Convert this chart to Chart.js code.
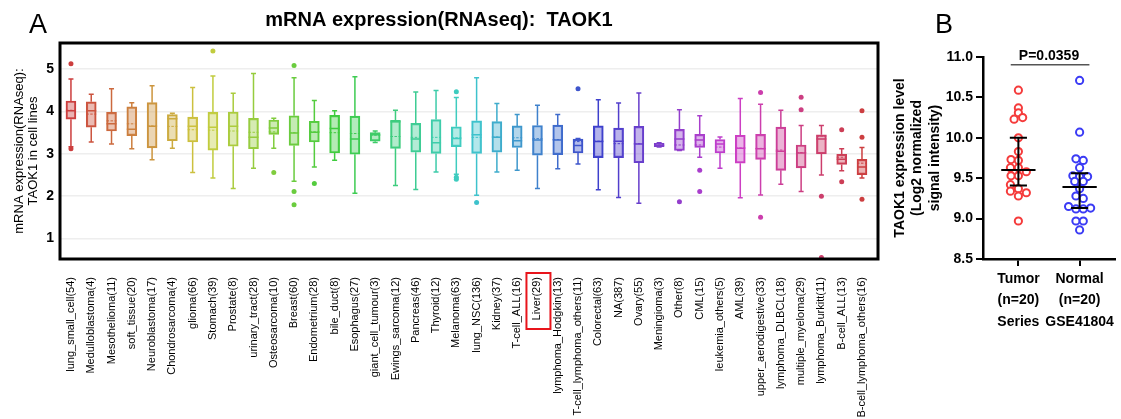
<!DOCTYPE html>
<html>
<head>
<meta charset="utf-8">
<script src="https://cdn.jsdelivr.net/npm/chart.js@4"></script>
<style>
  body { margin: 0; background: #fff; width: 1121px; height: 419px; position: relative; overflow: hidden; }
  #chartA { position: absolute; left: 0; top: 0; }
  #chartB { position: absolute; left: 885px; top: 0; }
</style>
</head>
<body>
<canvas id="chartA" width="885" height="419"></canvas>
<canvas id="chartB" width="236" height="419"></canvas>
<script>
// ---- panel A: cell line box plots ----
const cellLines = ['lung_small_cell(54)', 'Medulloblastoma(4)', 'Mesothelioma(11)', 'soft_tissue(20)', 'Neuroblastoma(17)',
  'Chondrosarcoma(4)', 'glioma(66)', 'Stomach(39)', 'Prostate(8)', 'urinary_tract(28)', 'Osteosarcoma(10)', 'Breast(60)',
  'Endometrium(28)', 'bile_duct(8)', 'Esophagus(27)', 'giant_cell_tumour(3)', 'Ewings_sarcoma(12)', 'Pancreas(46)',
  'Thyroid(12)', 'Melanoma(63)', 'lung_NSC(136)', 'Kidney(37)', 'T-cell_ALL(16)', 'Liver(29)', 'lymphoma_Hodgkin(13)',
  'T-cell_lymphoma_others(11)', 'Colorectal(63)', 'NA(387)', 'Ovary(55)', 'Meningioma(3)', 'Other(8)', 'CML(15)',
  'leukemia_others(5)', 'AML(39)', 'upper_aerodigestive(33)', 'lymphoma_DLBCL(18)', 'multiple_myeloma(29)',
  'lymphoma_Burkitt(11)', 'B-cell_ALL(13)', 'B-cell_lymphoma_others(16)'];

const whiskerLow  = [3.17, 3.28, 3.23, 3.12, 2.86, 3.13, 2.56, 2.43, 2.18, 2.66, 3.13, 2.35, 2.69, 2.85, 2.07, 3.27, 2.25, 2.16, 2.57, 2.52,
                     2.02, 2.57, 2.61, 2.18, 2.65, 2.76, 2.15, 1.97, 1.83, 3.16, 3.08, 2.92, 2.66, 1.96, 2.03, 2.28, 2.11, 2.50, 2.60, 2.43];
const q1Vals      = [3.82, 3.63, 3.54, 3.43, 3.14, 3.31, 3.28, 3.09, 3.18, 3.12, 3.46, 3.20, 3.28, 3.02, 2.99, 3.30, 3.13, 3.04, 3.01, 3.17,
                     3.01, 3.04, 3.15, 2.97, 2.98, 3.02, 2.91, 2.91, 2.79, 3.17, 3.08, 3.15, 3.02, 2.78, 2.87, 2.61, 2.67, 3.00, 2.75, 2.51];
const medianVals  = [4.02, 4.02, 3.71, 3.58, 3.65, 3.83, 3.65, 3.63, 3.65, 3.39, 3.61, 3.49, 3.51, 3.60, 3.35, 3.45, 3.76, 3.35, 3.26, 3.36,
                     3.45, 3.39, 3.31, 3.33, 3.33, 3.20, 3.29, 3.30, 3.23, 3.20, 3.35, 3.33, 3.23, 3.13, 3.12, 3.06, 3.02, 3.35, 2.87, 2.69];
const q3Vals      = [4.25, 4.23, 3.98, 4.11, 4.21, 3.93, 3.87, 3.98, 3.99, 3.84, 3.80, 3.90, 3.77, 3.91, 3.89, 3.50, 3.79, 3.72, 3.81, 3.64,
                     3.78, 3.76, 3.66, 3.67, 3.68, 3.35, 3.66, 3.61, 3.65, 3.25, 3.58, 3.46, 3.34, 3.44, 3.46, 3.63, 3.21, 3.45, 2.99, 2.87];
const whiskerHigh = [4.77, 4.41, 4.54, 4.21, 4.61, 3.96, 4.57, 4.84, 4.43, 4.90, 3.84, 4.80, 4.26, 4.02, 4.82, 3.54, 4.03, 4.46, 4.50, 4.33,
                     4.80, 4.19, 3.93, 4.15, 3.93, 3.36, 4.28, 4.20, 4.44, 3.26, 4.04, 3.90, 3.40, 4.31, 4.17, 4.03, 3.67, 3.67, 3.12, 3.15];
const meanVals    = [4.03, 3.94, 3.78, 3.71, 3.66, 3.65, 3.57, 3.56, 3.54, 3.51, 3.52, 3.50, 3.52, 3.50, 3.48, 3.44, 3.41, 3.39, 3.39, 3.38,
                     3.39, 3.40, 3.38, 3.36, 3.34, 3.29, 3.30, 3.24, 3.24, 3.21, 3.21, 3.21, 3.16, 3.14, 3.13, 3.09, 3.03, 3.42, 2.92, 2.78];
// [cell line index, value]
const outliers = [[0, 5.13], [0, 3.12], [7, 5.43], [10, 2.56], [11, 5.09], [11, 2.11], [11, 1.80], [12, 2.30],
  [19, 4.47], [19, 2.45], [19, 2.40], [20, 1.85], [25, 4.54], [30, 1.87], [31, 2.61], [31, 2.11],
  [34, 4.45], [34, 1.50], [36, 4.34], [36, 4.04], [37, 2.00], [37, 0.55], [38, 3.57], [38, 2.34],
  [39, 4.02], [39, 3.39], [39, 1.93]];
const yTicksA = [1, 2, 3, 4, 5];
const highlighted = 'Liver(29)';

// ---- panel B: GSE41804 ----
const groupLabels = [['Tumor', '(n=20)', 'Series'], ['Normal', '(n=20)', 'GSE41804']];
const tumorVals   = [10.59, 10.37, 10.31, 10.23, 10.25, 10.00, 9.83, 9.73, 9.72, 9.63, 9.63, 9.58, 9.53, 9.53, 9.42, 9.34, 9.37, 9.32, 9.28, 8.97];
const tumorShift  = [0, 0, 0, -0.07, 0.07, 0, 0, -0.12, 0, -0.13, 0, 0.13, -0.12, 0, -0.13, -0.13, 0, 0.13, 0, 0];
const normalVals  = [10.71, 10.07, 9.74, 9.72, 9.63, 9.53, 9.52, 9.52, 9.46, 9.46, 9.37, 9.28, 9.25, 9.15, 9.12, 9.12, 9.13, 8.97, 8.97, 8.86];
const normalShift = [0, 0, -0.06, 0.06, 0, -0.11, 0, 0.13, -0.08, 0.06, 0, -0.06, 0.06, -0.18, -0.06, 0.06, 0.18, -0.06, 0.06, 0];
const centerVals  = [9.60, 9.39];
const upperVals   = [10.00, 9.56];
const lowerVals   = [9.41, 9.13];
const pText = 'P=0.0359';

Chart.defaults.font.family = 'Arial, "Liberation Sans", sans-serif';
Chart.defaults.color = '#000';

const hue = i => (i * 9.2) % 360;
const lineCol = i => `hsl(${hue(i)}, 58%, 52%)`;
const fillCol = i => `hsla(${hue(i)}, 58%, 58%, 0.45)`;

// whiskers, caps, median and mean lines on top of the floating bars
const boxPlugin = {
  id: 'boxParts',
  afterDatasetsDraw(chart) {
    const { ctx, scales: { x, y } } = chart;
    ctx.save();
    cellLines.forEach((_, i) => {
      const cx = x.getPixelForValue(i);
      ctx.strokeStyle = lineCol(i);
      ctx.lineWidth = 1.5;
      ctx.setLineDash([]);
      ctx.beginPath();
      ctx.moveTo(cx, y.getPixelForValue(q3Vals[i])); ctx.lineTo(cx, y.getPixelForValue(whiskerHigh[i]));
      ctx.moveTo(cx, y.getPixelForValue(q1Vals[i])); ctx.lineTo(cx, y.getPixelForValue(whiskerLow[i]));
      [whiskerHigh[i], whiskerLow[i]].forEach(v => {
        const py = y.getPixelForValue(v);
        ctx.moveTo(cx - 2.5, py); ctx.lineTo(cx + 2.5, py);
      });
      const pm = y.getPixelForValue(medianVals[i]);
      ctx.moveTo(cx - 5, pm); ctx.lineTo(cx + 5, pm);
      ctx.stroke();
      ctx.lineWidth = 1;
      ctx.setLineDash([2.5, 1.5]);
      ctx.beginPath();
      const pa = y.getPixelForValue(meanVals[i]);
      ctx.moveTo(cx - 5, pa); ctx.lineTo(cx + 5, pa);
      ctx.stroke();
    });
    ctx.restore();
  },
  afterDraw(chart) {
    const { ctx, chartArea: a, scales: { x } } = chart;
    ctx.save();
    ctx.strokeStyle = '#000';
    ctx.lineWidth = 3;
    ctx.strokeRect(a.left, a.top, a.right - a.left, a.bottom - a.top);
    const lx = x.getPixelForValue(cellLines.indexOf(highlighted));
    ctx.strokeStyle = '#e8141b';
    ctx.lineWidth = 2;
    ctx.strokeRect(lx - 11, a.bottom + 14, 24, 56);
    ctx.fillStyle = '#000';
    ctx.font = '27px Arial, "Liberation Sans", sans-serif';
    ctx.textBaseline = 'middle';
    ctx.fillText('A', 29, 26);
    ctx.restore();
  }
};

new Chart(document.getElementById('chartA'), {
  data: {
    datasets: [
      {
        type: 'bar',
        data: cellLines.map((_, i) => ({ x: i, y: [q1Vals[i], q3Vals[i]] })),
        backgroundColor: cellLines.map((_, i) => fillCol(i)),
        borderColor: cellLines.map((_, i) => lineCol(i)),
        borderWidth: 1.5,
        borderSkipped: false,
        barThickness: 10
      },
      {
        type: 'scatter',
        data: outliers.map(([i, v]) => ({ x: i, y: v })),
        pointRadius: 2.5,
        pointBorderWidth: 0,
        pointBackgroundColor: outliers.map(([i]) => lineCol(i))
      }
    ]
  },
  options: {
    responsive: false,
    animation: false,
    layout: { padding: { left: 0, right: 7, top: 0, bottom: 0 } },
    plugins: {
      legend: { display: false },
      tooltip: { enabled: false },
      title: {
        display: true,
        text: 'mRNA expression(RNAseq):  TAOK1',
        font: { size: 20, weight: 'bold' },
        padding: { top: 8, bottom: 11 }
      }
    },
    scales: {
      x: {
        type: 'linear',
        offset: false,
        min: -0.54,
        max: 39.79,
        afterBuildTicks: s => { s.ticks = cellLines.map((_, i) => ({ value: i })); },
        ticks: { autoSkip: false, minRotation: 90, maxRotation: 90, padding: 10, font: { size: 11 }, callback: v => cellLines[v] },
        grid: { display: false },
        border: { display: false },
        afterFit: s => { s.height = 160; s.paddingLeft = 0; s.paddingRight = 0; }
      },
      y: {
        min: 0.515,
        max: 5.62,
        afterBuildTicks: s => { s.ticks = yTicksA.map(v => ({ value: v })); },
        ticks: { font: { size: 14, weight: 'bold' }, padding: 6 },
        grid: { color: '#eeeeee', lineWidth: 1.5, drawTicks: false },
        border: { display: false },
        title: { display: true, text: ['mRNA expression(RNAseq):', 'TAOK1 in cell lines'], font: { size: 13, lineHeight: 1.1 }, padding: { top: 12, bottom: 0 } },
        afterFit: s => { s.width = 60; s.paddingTop = 0; s.paddingBottom = 0; }
      }
    }
  },
  plugins: [boxPlugin]
});

// mean/error bars, p-value bracket and panel letter for B
const statPlugin = {
  id: 'stats',
  afterDatasetsDraw(chart) {
    const { ctx, scales: { x, y } } = chart;
    ctx.save();
    ctx.strokeStyle = '#000';
    ctx.lineWidth = 2;
    centerVals.forEach((m, g) => {
      const cx = x.getPixelForValue(g);
      const wMean = x.getPixelForValue(g + 0.28) - cx;
      const wCap = x.getPixelForValue(g + 0.14) - cx;
      ctx.beginPath();
      ctx.moveTo(cx - wMean, y.getPixelForValue(m)); ctx.lineTo(cx + wMean, y.getPixelForValue(m));
      ctx.moveTo(cx, y.getPixelForValue(upperVals[g])); ctx.lineTo(cx, y.getPixelForValue(lowerVals[g]));
      [upperVals[g], lowerVals[g]].forEach(v => {
        ctx.moveTo(cx - wCap, y.getPixelForValue(v)); ctx.lineTo(cx + wCap, y.getPixelForValue(v));
      });
      ctx.stroke();
    });
    const by = y.getPixelForValue(10.905);
    ctx.strokeStyle = '#555';
    ctx.lineWidth = 1.5;
    ctx.beginPath();
    ctx.moveTo(x.getPixelForValue(-0.125), by); ctx.lineTo(x.getPixelForValue(1.16), by);
    ctx.stroke();
    ctx.fillStyle = '#000';
    ctx.font = 'bold 14px Arial, "Liberation Sans", sans-serif';
    ctx.textAlign = 'center';
    ctx.textBaseline = 'middle';
    ctx.fillText(pText, x.getPixelForValue(0.5), by - 9);
    ctx.font = '27px Arial, "Liberation Sans", sans-serif';
    ctx.fillText('B', 59, 26);
    ctx.restore();
  }
};

new Chart(document.getElementById('chartB'), {
  type: 'scatter',
  data: {
    datasets: [
      {
        data: tumorVals.map((v, k) => ({ x: tumorShift[k], y: v })),
        pointRadius: 3.6, pointBorderWidth: 2,
        pointBorderColor: '#f53b3b', pointBackgroundColor: '#fff'
      },
      {
        data: normalVals.map((v, k) => ({ x: 1 + normalShift[k], y: v })),
        pointRadius: 3.6, pointBorderWidth: 2,
        pointBorderColor: '#3b3bf5', pointBackgroundColor: '#fff'
      }
    ]
  },
  options: {
    responsive: false,
    animation: false,
    layout: { padding: { left: 0, right: 0, top: 57, bottom: 0 } },
    plugins: { legend: { display: false }, tooltip: { enabled: false } },
    scales: {
      x: {
        min: -0.578,
        max: 1.578,
        afterBuildTicks: s => { s.ticks = groupLabels.map((_, g) => ({ value: g })); },
        ticks: { font: { size: 14, weight: 'bold', lineHeight: 1.55 }, padding: 2, callback: v => groupLabels[v] },
        grid: { drawOnChartArea: false, tickLength: 7, color: '#000', lineWidth: 2 },
        border: { color: '#000', width: 2.5 },
        afterFit: s => { s.height = 160; }
      },
      y: {
        min: 8.5,
        max: 11,
        ticks: { stepSize: 0.5, font: { size: 14, weight: 'bold' }, padding: 3, callback: v => v.toFixed(1) },
        grid: { drawOnChartArea: false, tickLength: 7, color: '#000', lineWidth: 2 },
        border: { color: '#000', width: 2.5 },
        title: {
          display: true,
          text: ['TAOK1 expression level', '(Log2 normalized', 'signal intensity)'],
          font: { size: 14, weight: 'bold', lineHeight: 1.25 },
          padding: { top: 6, bottom: 0 }
        },
        afterFit: s => { s.width = 98; }
      }
    }
  },
  plugins: [statPlugin]
});
</script>
</body>
</html>
